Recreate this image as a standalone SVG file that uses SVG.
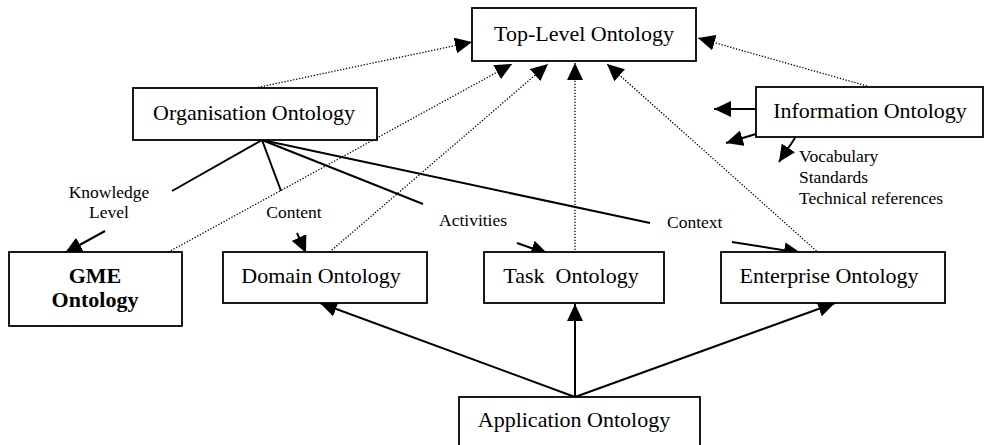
<svg xmlns="http://www.w3.org/2000/svg" width="984" height="445" viewBox="0 0 984 445">
<style>
.box{fill:#fff;stroke:#000;stroke-width:1.8}
.lbl{font-family:"Liberation Serif","Times New Roman",serif;font-size:22px;fill:#000;text-anchor:middle}
.sm{font-family:"Liberation Serif","Times New Roman",serif;font-size:17.5px;fill:#000}
.solid{stroke:#000;stroke-width:2;fill:none}
.dot{stroke:#000;stroke-width:1.3;stroke-dasharray:1.3 1.7;fill:none}
</style>
<defs>
<marker id="ah" markerUnits="userSpaceOnUse" markerWidth="17" markerHeight="16" refX="17" refY="8" orient="auto">
<path d="M0,0 L17,8 L0,16 z" fill="#000"/>
</marker>
</defs>
<rect width="984" height="445" fill="#fff"/>
<g id="connectors">
<line class="dot" x1="255" y1="88" x2="472" y2="42" marker-end="url(#ah)"/>
<line class="dot" x1="163" y1="255" x2="512" y2="64" marker-end="url(#ah)"/>
<line class="dot" x1="325" y1="256" x2="548" y2="64" marker-end="url(#ah)"/>
<line class="dot" x1="575" y1="262" x2="575" y2="63" marker-end="url(#ah)"/>
<line class="dot" x1="821" y1="255" x2="607" y2="64" marker-end="url(#ah)"/>
<line class="dot" x1="867" y1="86" x2="698" y2="38" marker-end="url(#ah)"/>
<line class="solid" x1="262" y1="140" x2="172" y2="191"/>
<line class="solid" x1="105" y1="231" x2="65" y2="253" marker-end="url(#ah)"/>
<line class="solid" x1="262" y1="140" x2="281" y2="191"/>
<line class="solid" x1="297" y1="233" x2="306" y2="253" marker-end="url(#ah)"/>
<line class="solid" x1="262" y1="140" x2="423" y2="204"/>
<line class="solid" x1="517" y1="243" x2="548" y2="254" marker-end="url(#ah)"/>
<line class="solid" x1="262" y1="140" x2="650" y2="223"/>
<line class="solid" x1="732" y1="242" x2="801" y2="253" marker-end="url(#ah)"/>
<line class="solid" x1="756" y1="109" x2="714" y2="109" marker-end="url(#ah)"/>
<line class="solid" x1="756" y1="134" x2="726" y2="143" marker-end="url(#ah)"/>
<line class="solid" x1="795" y1="138" x2="779" y2="162" marker-end="url(#ah)"/>
<line class="solid" x1="575" y1="397" x2="320" y2="303" marker-end="url(#ah)"/>
<line class="solid" x1="575" y1="397" x2="575" y2="304" marker-end="url(#ah)"/>
<line class="solid" x1="575" y1="397" x2="835" y2="303" marker-end="url(#ah)"/>
</g>
<g id="top-level">
<rect class="box" x="472" y="8" width="224" height="53"/>
<text class="lbl" x="584" y="41">Top-Level Ontology</text>
</g>
<g id="organisation">
<rect class="box" x="133" y="88" width="244" height="52"/>
<text class="lbl" x="254" y="120">Organisation Ontology</text>
</g>
<g id="information">
<rect class="box" x="756" y="87" width="227" height="50"/>
<text class="lbl" x="870" y="118">Information Ontology</text>
</g>
<g id="gme">
<rect class="box" x="9" y="252" width="173" height="74"/>
<text class="lbl" x="95" y="283" font-weight="bold">GME</text>
<text class="lbl" x="95" y="307" font-weight="bold">Ontology</text>
</g>
<g id="domain">
<rect class="box" x="223" y="252" width="204" height="51"/>
<text class="lbl" x="321" y="283">Domain Ontology</text>
</g>
<g id="task">
<rect class="box" x="484" y="252" width="180" height="51"/>
<text class="lbl" x="571" y="283" xml:space="preserve" style="white-space:pre">Task  Ontology</text>
</g>
<g id="enterprise">
<rect class="box" x="721" y="252" width="224" height="51"/>
<text class="lbl" x="829" y="283">Enterprise Ontology</text>
</g>
<g id="application">
<rect class="box" x="459" y="397" width="241" height="60"/>
<text class="lbl" x="574" y="427">Application Ontology</text>
</g>
<g id="labels">
<text class="sm" x="109" y="198" text-anchor="middle">Knowledge</text>
<text class="sm" x="109" y="218" text-anchor="middle">Level</text>
<text class="sm" x="294" y="218" text-anchor="middle">Content</text>
<text class="sm" x="439" y="226">Activities</text>
<text class="sm" x="667" y="228">Context</text>
<text class="sm" x="799" y="162">Vocabulary</text>
<text class="sm" x="799" y="183">Standards</text>
<text class="sm" x="799" y="204">Technical references</text>
</g>
</svg>
